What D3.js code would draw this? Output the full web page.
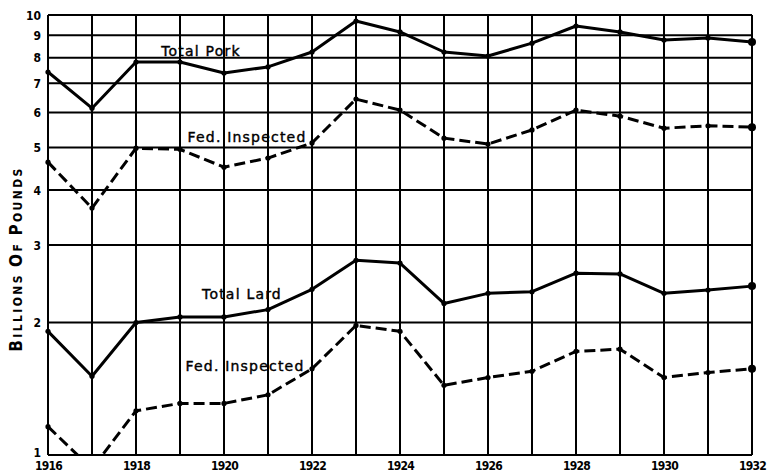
<!DOCTYPE html>
<html>
<head>
<meta charset="utf-8">
<script src="https://cdn.jsdelivr.net/npm/d3@7"></script>
<style>
  body { margin: 0; background: #fff; }
  svg { display: block; }
</style>
</head>
<body>
<div id="chart"></div>
<script>
// Datos (miles de millones de libras)
const YEARS = [1916, 1917, 1918, 1919, 1920, 1921, 1922, 1923, 1924, 1925, 1926, 1927, 1928, 1929, 1930, 1931, 1932];
const TOTAL_PORK = [7.42, 6.14, 7.82, 7.82, 7.38, 7.62, 8.24, 9.69, 9.15, 8.24, 8.07, 8.63, 9.44, 9.15, 8.77, 8.87, 8.68];
const FED_PORK = [4.63, 3.64, 4.98, 4.95, 4.51, 4.73, 5.12, 6.44, 6.08, 5.25, 5.09, 5.48, 6.08, 5.89, 5.53, 5.60, 5.56];
const TOTAL_LARD = [1.91, 1.51, 2.0, 2.06, 2.06, 2.14, 2.38, 2.77, 2.73, 2.21, 2.33, 2.35, 2.59, 2.58, 2.33, 2.37, 2.42];
const FED_LARD = [1.16, 0.93, 1.26, 1.31, 1.31, 1.37, 1.57, 1.97, 1.91, 1.44, 1.50, 1.55, 1.72, 1.74, 1.50, 1.54, 1.57];
const Y_TICKS = [1, 2, 3, 4, 5, 6, 7, 8, 9, 10];
const X_TICKS = [1916, 1918, 1920, 1922, 1924, 1926, 1928, 1930, 1932];

const SERIES = [
  { name: "Total Pork", values: TOTAL_PORK, dashed: false, label: "Total Pork", lx: 201, ly: 56 },
  { name: "Fed. Inspected", values: FED_PORK, dashed: true, label: "Fed. Inspected", lx: 247, ly: 142 },
  { name: "Total Lard", values: TOTAL_LARD, dashed: false, label: "Total Lard", lx: 242, ly: 299 },
  { name: "Fed. Inspected", values: FED_LARD, dashed: true, label: "Fed. Inspected", lx: 245, ly: 371 }
];

const WIDTH = 771;
const HEIGHT = 476;
const MARGIN = { top: 15, bottom: 21, left: 48, right: 19 };

const SVG = d3.select("#chart").append("svg").attr("width", WIDTH).attr("height", HEIGHT);

const x = d3.scaleLinear().domain([1916, 1932]).range([MARGIN.left, WIDTH - MARGIN.right]);
const y = d3.scaleLog().domain([1, 10]).range([HEIGHT - MARGIN.bottom, MARGIN.top]);

const FONT = "'DejaVu Sans Condensed', 'DejaVu Sans', sans-serif";

// Grilla
SVG.append("g").selectAll("line.h").data(Y_TICKS).join("line")
  .attr("x1", x(1916)).attr("x2", x(1932))
  .attr("y1", d => y(d)).attr("y2", d => y(d))
  .attr("stroke", "#000").attr("stroke-width", 2);

SVG.append("g").selectAll("line.v").data(YEARS).join("line")
  .attr("x1", d => x(d)).attr("x2", d => x(d))
  .attr("y1", y(10)).attr("y2", y(1))
  .attr("stroke", "#000").attr("stroke-width", 2);

// Ejes (solo etiquetas)
const yAxis = SVG.append("g").attr("transform", `translate(${x(1916) - 4},0)`)
  .call(d3.axisLeft(y).tickValues(Y_TICKS).tickFormat(d3.format("d")).tickSize(0));
yAxis.select(".domain").remove();
yAxis.selectAll("text").attr("font-family", FONT).attr("font-weight", "bold")
  .attr("font-size", 12).attr("fill", "#000")
  .attr("dy", d => d === 1 ? "0.1em" : "0.35em");

const xAxis = SVG.append("g").attr("transform", `translate(0,${y(1)})`)
  .call(d3.axisBottom(x).tickValues(X_TICKS).tickFormat(d3.format("d")).tickSize(0));
xAxis.select(".domain").remove();
xAxis.selectAll("text").attr("font-family", FONT).attr("font-weight", "bold")
  .attr("font-size", 12).attr("fill", "#000").attr("dy", "1.0em")
  .attr("letter-spacing", -0.8);

// Titulo eje Y
const title = SVG.append("text")
  .attr("transform", `translate(22, 259) rotate(-90)`)
  .attr("text-anchor", "middle")
  .attr("font-family", FONT).attr("font-weight", "bold").attr("fill", "#000")
  .attr("letter-spacing", 2.4);
[["B", 17], ["ILLIONS ", 12], ["O", 17], ["F ", 12], ["P", 17], ["OUNDS", 12]].forEach(p => {
  title.append("tspan").attr("font-size", p[1]).text(p[0]);
});

// Lineas
SVG.append("clipPath").attr("id", "plot-clip").append("rect")
  .attr("x", x(1916) - 6).attr("y", y(10) - 6)
  .attr("width", x(1932) - x(1916) + 12).attr("height", y(1) - y(10) + 6);

const line = d3.line().x((d, i) => x(YEARS[i])).y(d => y(d));

const plot = SVG.append("g").attr("clip-path", "url(#plot-clip)");

plot.selectAll(".serie").data(SERIES).join("path")
  .attr("class", "serie")
  .attr("d", d => line(d.values))
  .attr("fill", "none").attr("stroke", "#000").attr("stroke-width", 3)
  .attr("stroke-linejoin", "round")
  .attr("stroke-dasharray", d => d.dashed ? "11,5" : null);

// Puntos
SERIES.forEach(s => {
  plot.append("g").selectAll("circle").data(s.values).join("circle")
    .attr("cx", (d, i) => x(YEARS[i])).attr("cy", d => y(d))
    .attr("r", (d, i) => i === s.values.length - 1 ? 4 : 2.6)
    .attr("fill", "#000");
});

// Etiquetas de series
SVG.selectAll(".etiqueta").data(SERIES).join("text")
  .attr("class", "etiqueta")
  .attr("x", d => d.lx).attr("y", d => d.ly)
  .attr("text-anchor", "middle")
  .attr("font-family", "'DejaVu Sans', sans-serif")
  .attr("font-size", 14)
  .attr("letter-spacing", 1.2)
  .attr("fill", "#000").attr("stroke", "#000").attr("stroke-width", 0.4)
  .text(d => d.label);
</script>
</body>
</html>
